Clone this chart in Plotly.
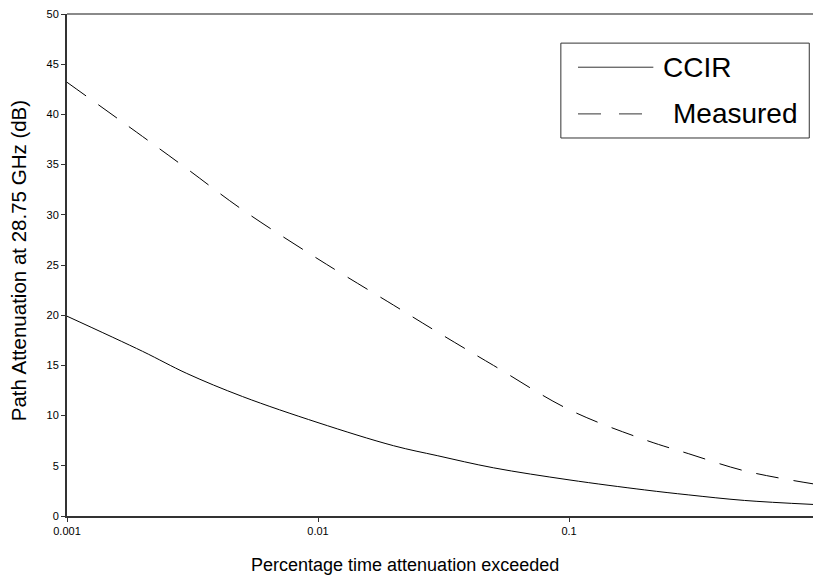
import plotly.graph_objects as go

# Data (percentage of time, attenuation in dB)
x_pct = [0.001, 0.002, 0.003, 0.005, 0.01, 0.02, 0.03, 0.05, 0.1, 0.2, 0.3, 0.5, 0.94]
ccir = [19.9, 16.4, 14.2, 11.9, 9.3, 7.0, 6.0, 4.8, 3.6, 2.6, 2.1, 1.55, 1.15]
measured = [43.2, 37.8, 34.6, 30.5, 25.6, 21.0, 18.3, 15.0, 10.6, 7.6, 6.2, 4.5, 3.2]
x_tick_vals = [0.001, 0.01, 0.1]
x_tick_text = ["0.001", "0.01", "0.1"]
series_names = ["CCIR", "Measured"]

FONT = "Liberation Sans, Arial, sans-serif"

fig = go.Figure()
fig.add_trace(go.Scatter(x=x_pct, y=ccir, mode="lines", name=series_names[0],
                         line=dict(color="black", width=1), line_shape="spline",
                         showlegend=False))
fig.add_trace(go.Scatter(x=x_pct, y=measured, mode="lines", name=series_names[1],
                         line=dict(color="black", width=1, dash="23px,15px"),
                         line_shape="spline", showlegend=False))

fig.update_layout(
    width=813, height=579,
    margin=dict(l=67, r=0, t=14, b=63),
    paper_bgcolor="white", plot_bgcolor="white",
    font=dict(family=FONT, color="black", size=11),
    xaxis=dict(type="log", range=[-3, -0.028], tickvals=x_tick_vals, ticktext=x_tick_text,
               showgrid=False, zeroline=False, showline=True, linecolor="#333333", linewidth=2,
               ticks="outside", ticklen=4, tickcolor="#333333", tickwidth=1,
               tickfont=dict(size=11, family=FONT)),
    yaxis=dict(range=[0, 50], dtick=5, showgrid=False, zeroline=False, showline=True,
               linecolor="#333333", linewidth=2, ticks="outside", ticklen=4,
               tickcolor="#333333", tickwidth=1, tickfont=dict(size=11, family=FONT)),
    shapes=[
        # top border (gray)
        dict(type="line", xref="paper", yref="paper", x0=0, x1=1, y0=1, y1=1,
             line=dict(color="#8a8a8a", width=2)),
        # legend box
        dict(type="rect", xref="paper", yref="paper", x0=0.662, x1=0.995, y0=0.753, y1=0.942,
             line=dict(color="#333333", width=1), fillcolor="white"),
        dict(type="line", xref="paper", yref="paper", x0=0.685, x1=0.786, y0=0.894, y1=0.894,
             line=dict(color="#333333", width=1)),
        dict(type="line", xref="paper", yref="paper", x0=0.685, x1=0.786, y0=0.801, y1=0.801,
             line=dict(color="#333333", width=1, dash="23px,18px")),
    ],
    annotations=[
        dict(text=series_names[0], xref="paper", yref="paper", x=0.796, y=0.894,
             xanchor="left", yanchor="middle", showarrow=False,
             font=dict(size=28, family=FONT, color="black")),
        dict(text=series_names[1], xref="paper", yref="paper", x=0.809, y=0.801,
             xanchor="left", yanchor="middle", showarrow=False,
             font=dict(size=28, family=FONT, color="black")),
        dict(text="Percentage time attenuation exceeded", xref="paper", yref="paper",
             x=0.453, y=-0.098, xanchor="center", yanchor="middle", showarrow=False,
             font=dict(size=18, family=FONT, color="black")),
        dict(text="Path Attenuation at 28.75 GHz (dB)", xref="paper", yref="paper",
             x=-0.064, y=0.508, xanchor="center", yanchor="middle", showarrow=False,
             textangle=-90, font=dict(size=20.5, family=FONT, color="black")),
    ],
)

fig.write_html("out.html", config={"displayModeBar": False},
               post_script="document.body.style.margin='0px';document.body.style.overflow='hidden';")
